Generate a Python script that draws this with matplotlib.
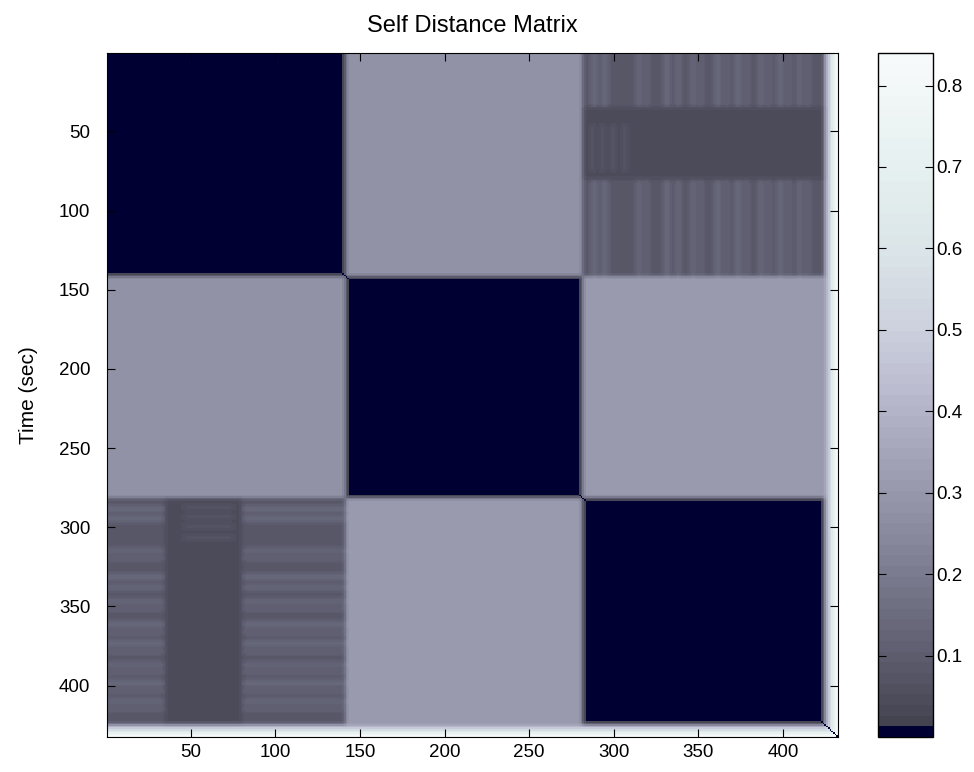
import numpy as np
import matplotlib
matplotlib.use("Agg")
import matplotlib.pyplot as plt
from matplotlib.colors import LinearSegmentedColormap, ListedColormap

plt.rcParams['font.family'] = ['Liberation Sans', 'DejaVu Sans']
tick_family, tick_size = ['Liberation Sans', 'DejaVu Sans'], 13.5

# ---- data ----
n_frames = 432
segment_bounds = [0, 141, 281, 424]          # section starts/ends (frames)
block_values = [[0.00, 0.28, 0.05],
                [0.28, 0.00, 0.31],
                [0.05, 0.31, 0.00]]
# rows of section 1 whose distance to section 3 is larger
sec1_bright_rows = [(0, 34), (80, 141)]
row_band_extra = 0.04
# columns of section 3 showing light vertical stripes
sec3_stripe_cols = [(286, 290), (292, 296), (313, 316), (318, 320), (329, 333),
                    (336, 339), (345, 348), (350, 352), (359, 363), (365, 367),
                    (371, 375), (377, 379), (385, 388), (390, 392), (396, 400),
                    (402, 404), (408, 411), (413, 415)]
stripe_extra = 0.05
# faint stripes inside the dark middle band
mid_band_rows = (45, 75)
mid_stripe_cols = [(286, 288), (292, 294), (298, 300), (305, 307)]
mid_stripe_extra = 0.03
end_frame_levels = [0.32, 0.40, 0.48, 0.56, 0.64, 0.72, 0.80, 0.86]   # last frames vs the rest

cbar_ticks = [0.1, 0.2, 0.3, 0.4, 0.5, 0.6, 0.7, 0.8]
x_ticks = [50, 100, 150, 200, 250, 300, 350, 400]
y_ticks = [50, 100, 150, 200, 250, 300, 350, 400]
vmin, vmax = 0.0, 0.84

# ---- build matrix from the values above ----
D = np.zeros((n_frames, n_frames))
nb = len(segment_bounds) - 1
for a in range(nb):
    for b in range(nb):
        D[segment_bounds[a]:segment_bounds[a + 1], segment_bounds[b]:segment_bounds[b + 1]] = block_values[a][b]
s3a, s3b = segment_bounds[2], segment_bounds[3]
for r0, r1 in sec1_bright_rows:
    D[r0:r1, s3a:s3b] += row_band_extra
    for c0, c1 in sec3_stripe_cols:
        D[r0:r1, c0:c1] += stripe_extra
for c0, c1 in mid_stripe_cols:
    D[mid_band_rows[0]:mid_band_rows[1], c0:c1] += mid_stripe_extra
D[s3a:s3b, 0:segment_bounds[1]] = D[0:segment_bounds[1], s3a:s3b].T
start = n_frames - len(end_frame_levels)
lev = np.array(end_frame_levels)
for k, lv in enumerate(end_frame_levels):
    i = start + k
    D[i, :start] = np.maximum(D[i, :start], lv)
    D[:start, i] = np.maximum(D[:start, i], lv)
D[start:, start:] = np.maximum.outer(lev, lev)
# soft block edges (two passes of a 3x3 box)
for _ in range(2):
    P = np.pad(D, 1, mode='edge')
    D = sum(P[1 + dy:1 + dy + n_frames, 1 + dx:1 + dx + n_frames]
            for dy in (-1, 0, 1) for dx in (-1, 0, 1)) / 9.0
np.fill_diagonal(D, 0.0)

# ---- colormap: 64 levels, first navy ----
anchor = LinearSegmentedColormap.from_list('g', [
    (0.00, (0.25, 0.25, 0.30)),
    (0.12, (0.37, 0.37, 0.44)),
    (0.24, (0.49, 0.49, 0.57)),
    (0.36, (0.60, 0.60, 0.68)),
    (0.48, (0.71, 0.71, 0.79)),
    (0.60, (0.80, 0.82, 0.87)),
    (0.72, (0.86, 0.90, 0.91)),
    (0.84, (0.90, 0.94, 0.94)),
    (1.00, (0.97, 0.98, 0.98))])
cols = anchor(np.linspace(0, 1, 64))
cols[0] = (0.0, 0.0, 0.2, 1.0)
cmap = ListedColormap(cols)

fig = plt.figure(figsize=(9.74, 7.72), dpi=100)
ax = fig.add_axes([107 / 974, 1 - 737 / 772, 731 / 974, 684 / 772])
im = ax.imshow(D, cmap=cmap, vmin=vmin, vmax=vmax, aspect='auto',
               extent=[0.5, n_frames + 0.5, n_frames + 0.5, 0.5], interpolation='nearest')
ax.set_xticks(x_ticks)
ax.set_yticks(y_ticks)
ax.tick_params(direction='in', top=True, right=True, length=6)
ax.tick_params(axis='y', pad=12)
ax.tick_params(axis='x', pad=5)
for lab in ax.get_xticklabels() + ax.get_yticklabels():
    lab.set_family(tick_family)
    lab.set_fontsize(tick_size)
ax.set_title('Self Distance Matrix', fontsize=17, pad=15)
ax.set_ylabel('Time (sec)', fontsize=15)
ax.yaxis.set_label_coords(-0.095, 0.5)

cax = fig.add_axes([878 / 974, 1 - 737 / 772, 55 / 974, 684 / 772])
cb = fig.colorbar(im, cax=cax)
cb.set_ticks(cbar_ticks)
cb.set_ticklabels([f'{t:.1f}' for t in cbar_ticks])
cax.tick_params(direction='in', left=True, right=True, length=6, pad=2)
for lab in cax.get_yticklabels():
    lab.set_family(tick_family)
    lab.set_fontsize(tick_size)
cb.outline.set_linewidth(1.0)

fig.savefig('out.png', dpi=100)
